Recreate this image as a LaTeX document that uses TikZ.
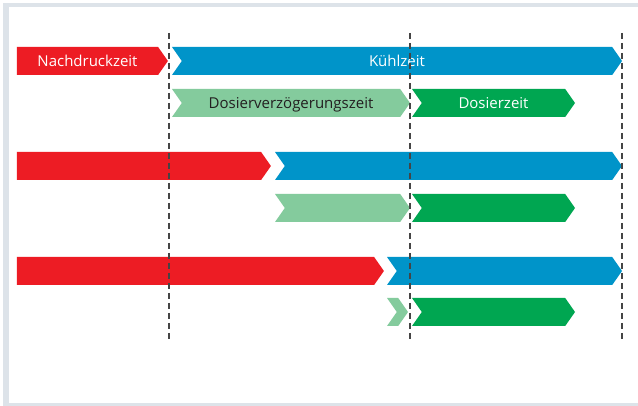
\documentclass[tikz,border=0pt]{standalone}
\usepackage{fontspec}
\setmainfont{Open Sans}
\usetikzlibrary{shapes.symbols}

\definecolor{nachrot}{HTML}{ED1C24}
\definecolor{kuehlblau}{HTML}{0094C9}
\definecolor{verzgruen}{HTML}{84CB9D}
\definecolor{dosgruen}{HTML}{00A651}
\definecolor{rahmen}{HTML}{DDE3E9}
\definecolor{strich}{HTML}{454545}
\definecolor{dunkel}{HTML}{231F20}

\tikzset{
  phase/.style={signal, signal to=east, signal pointer angle=110,
    minimum height=28pt, inner sep=0pt, outer sep=0pt,
    text height=10.7pt, text depth=0pt, text=white,
    font=\fontsize{15}{18}\selectfont},
  folge/.style={phase, signal from=west},
  takt/.style={strich, line width=1.2pt, dash pattern=on 6pt off 4pt},
}

\begin{document}
\begin{tikzpicture}[x=1pt,y=-1pt]
  \useasboundingbox (0,0) rectangle (638,406);
  \fill[rahmen] (3,3) rectangle (638,406);
  \fill[white] (9,7) rectangle (638,403);

  % Zyklus 1
  \node[phase, fill=nachrot, minimum width=151pt] (nach1) at (87.5,61) {Nachdruckzeit};
  \node[folge, fill=kuehlblau, minimum width=450pt] (kuehl1) at (397,61) {Kühlzeit};
  \node[folge, fill=verzgruen, text=dunkel, minimum width=238pt] (verz1) at (291,103) {Dosierverzögerungszeit};
  \node[folge, fill=dosgruen, minimum width=163pt] (dos1) at (493.5,103) {Dosierzeit};

  % Zyklus 2
  \node[phase, fill=nachrot, minimum width=254pt] (nach2) at (139,166) {};
  \node[folge, fill=kuehlblau, minimum width=347pt] (kuehl2) at (448.5,166) {};
  \node[folge, fill=verzgruen, minimum width=135pt] (verz2) at (342.5,208) {};
  \node[folge, fill=dosgruen, minimum width=163pt] (dos2) at (493.5,208) {};

  % Zyklus 3
  \node[phase, fill=nachrot, minimum width=367pt] (nach3) at (195.5,271) {};
  \node[folge, fill=kuehlblau, minimum width=235pt] (kuehl3) at (504.5,271) {};
  \node[folge, fill=verzgruen, minimum width=21pt] (verz3) at (397.5,312) {};
  \node[folge, fill=dosgruen, minimum width=163pt] (dos3) at (493.5,312) {};

  % Taktlinien
  \coordinate (t1o) at (169,33);  \coordinate (t1u) at (169,341);
  \coordinate (t2o) at (410,33);  \coordinate (t2u) at (410,341);
  \coordinate (t3o) at (622,33);  \coordinate (t3u) at (622,341);
  \draw[takt] (t1o) -- (t1u);
  \draw[takt] (t2o) -- (t2u);
  \draw[takt] (t3o) -- (t3u);
\end{tikzpicture}
\end{document}
